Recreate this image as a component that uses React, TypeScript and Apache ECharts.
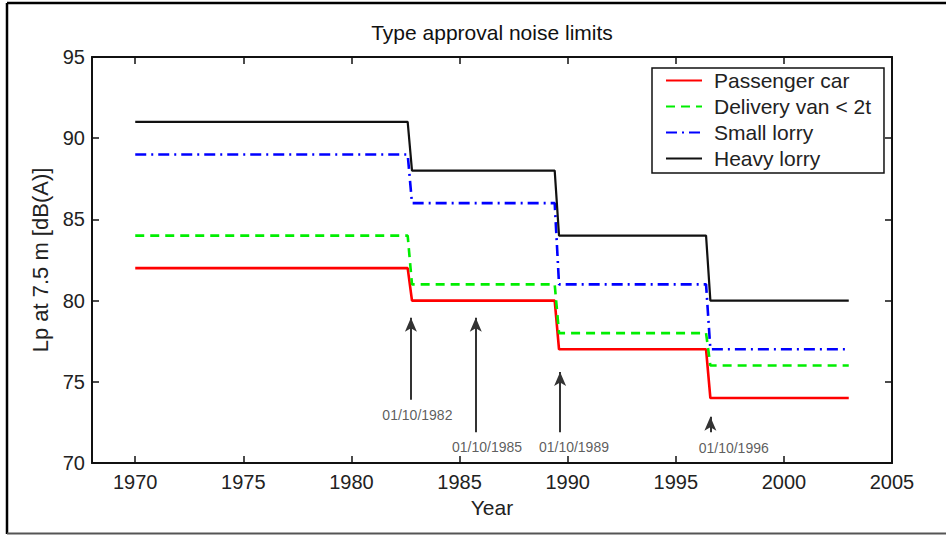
import React, { useEffect, useRef } from "react";
import * as echarts from "echarts";

const stepYears = [1970, 1982.6, 1982.8, 1989.4, 1989.6, 1996.4, 1996.6, 2003];
const passengerCar = [82, 82, 80, 80, 77, 77, 74, 74];
const deliveryVan = [84, 84, 81, 81, 78, 78, 76, 76];
const smallLorry = [89, 89, 86, 86, 81, 81, 77, 77];
const heavyLorry = [91, 91, 88, 88, 84, 84, 80, 80];

const seriesNames = ["Passenger car", "Delivery van < 2t", "Small lorry", "Heavy lorry"];

const xTicks = [1970, 1975, 1980, 1985, 1990, 1995, 2000, 2005];

const arrowYears = [1982.75, 1985.75, 1989.65, 1996.6];
const arrowFrom = [73.9, 71.9, 71.9, 71.9];
const arrowTo = [78.95, 78.95, 75.6, 72.85];

const arrowLabels = ["01/10/1982", "01/10/1985", "01/10/1989", "01/10/1996"];
const arrowLabelX = [1983.05, 1986.27, 1990.29, 1997.68];
const arrowLabelY = [72.94, 70.99, 70.99, 70.92];

const FONT = "'Liberation Sans', Arial, Helvetica, sans-serif";

function pairs(ys: number[]) {
  return stepYears.map((x, i) => [x, ys[i]]);
}

export default function App() {
  const ref = useRef<HTMLDivElement>(null);
  useEffect(() => {
    if (!ref.current) return;
    const chart = echarts.init(ref.current, null, { renderer: "svg" });
    const axisLine = { show: true, lineStyle: { color: "#111", width: 2 } };
    const tickIn = { show: true, inside: true, length: 7, lineStyle: { color: "#111", width: 1.5 } };
    const option: any = {
      animation: false,
      backgroundColor: "#fff",
      textStyle: { fontFamily: FONT },
      title: {
        text: "Type approval noise limits",
        left: 492,
        top: 22,
        textAlign: "center",
        padding: 0,
        textStyle: { fontFamily: FONT, fontSize: 21, fontWeight: "normal", color: "#111" },
      },
      graphic: [
        { type: "line", shape: { x1: 7, y1: 3, x2: 946, y2: 3 }, style: { stroke: "#000", lineWidth: 2.5 }, z: -1 },
        { type: "line", shape: { x1: 7, y1: 3, x2: 7, y2: 534 }, style: { stroke: "#000", lineWidth: 2.5 }, z: -1 },
        { type: "line", shape: { x1: 7, y1: 533.5, x2: 946, y2: 533.5 }, style: { stroke: "#555", lineWidth: 2 }, z: -1 },
      ],
      grid: { left: 92, right: 54, top: 57, bottom: 72, containLabel: false },
      legend: {
        data: seriesNames,
        orient: "vertical",
        left: 652,
        top: 68,
        padding: [2, 13, 4, 13],
        itemWidth: 36,
        itemHeight: 18,
        itemGap: 5,
        borderColor: "#111",
        borderWidth: 1.5,
        backgroundColor: "#fff",
        itemStyle: { opacity: 0 },
        textStyle: { fontFamily: FONT, fontSize: 21, color: "#222", padding: [0, 0, 0, 7] },
      },
      xAxis: [
        {
          type: "value",
          min: 1968,
          max: 2005,
          name: "Year",
          nameLocation: "middle",
          nameGap: 29,
          nameTextStyle: { fontFamily: FONT, fontSize: 21, color: "#222" },
          axisLine,
          axisTick: { ...tickIn, customValues: xTicks },
          axisLabel: {
            customValues: xTicks,
            formatter: (v: number) => String(v),
            fontFamily: FONT,
            fontSize: 20,
            color: "#222",
            margin: 9,
          },
          splitLine: { show: false },
        },
        {
          type: "value",
          position: "top",
          min: 1968,
          max: 2005,
          axisLine,
          axisTick: { ...tickIn, customValues: xTicks },
          axisLabel: { show: false, customValues: xTicks },
          splitLine: { show: false },
        },
      ],
      yAxis: [
        {
          type: "value",
          min: 70,
          max: 95,
          interval: 5,
          name: "Lp at 7.5 m [dB(A)]",
          nameLocation: "middle",
          nameGap: 33,
          nameTextStyle: { fontFamily: FONT, fontSize: 22, color: "#222" },
          axisLine,
          axisTick: tickIn,
          axisLabel: { fontFamily: FONT, fontSize: 20, color: "#222", margin: 7 },
          splitLine: { show: false },
        },
        {
          type: "value",
          position: "right",
          min: 70,
          max: 95,
          interval: 5,
          axisLine,
          axisTick: tickIn,
          axisLabel: { show: false },
          splitLine: { show: false },
        },
      ],
      series: [
        {
          name: seriesNames[0],
          type: "line",
          data: pairs(passengerCar),
          symbol: "none",
          lineStyle: { color: "#ff0000", width: 2.6, type: "solid" },
          itemStyle: { color: "#ff0000" },
        },
        {
          name: seriesNames[1],
          type: "line",
          data: pairs(deliveryVan),
          symbol: "none",
          lineStyle: { color: "#00ee00", width: 2.6, type: [9, 6] },
          itemStyle: { color: "#00ee00" },
        },
        {
          name: seriesNames[2],
          type: "line",
          data: pairs(smallLorry),
          symbol: "none",
          lineStyle: { color: "#0000ff", width: 2.6, type: [11, 5, 2, 5] },
          itemStyle: { color: "#0000ff" },
        },
        {
          name: seriesNames[3],
          type: "line",
          data: pairs(heavyLorry),
          symbol: "none",
          lineStyle: { color: "#111", width: 2.2, type: "solid" },
          itemStyle: { color: "#111" },
        },
        {
          name: "arrows",
          type: "line",
          data: [],
          symbol: "none",
          markLine: {
            silent: true,
            symbol: ["none", "arrow"],
            symbolSize: [9, 14],
            label: { show: false },
            lineStyle: { color: "#333", width: 2, type: "solid" },
            data: arrowYears.map((x, i) => [
              { coord: [x, arrowFrom[i]] },
              { coord: [x, arrowTo[i]] },
            ]),
          },
        },
        {
          name: "dates",
          type: "scatter",
          symbolSize: 1,
          itemStyle: { color: "transparent" },
          data: arrowLabels.map((t, i) => ({ name: t, value: [arrowLabelX[i], arrowLabelY[i]] })),
          label: {
            show: true,
            position: "inside",
            formatter: "{b}",
            fontFamily: FONT,
            fontSize: 14,
            color: "#333",
          },
        },
      ],
    };
    chart.setOption(option);
    return () => chart.dispose();
  }, []);
  return (
    <div
      ref={ref}
      style={{ position: "absolute", left: 0, top: 0, width: 946, height: 535 }}
    />
  );
}
